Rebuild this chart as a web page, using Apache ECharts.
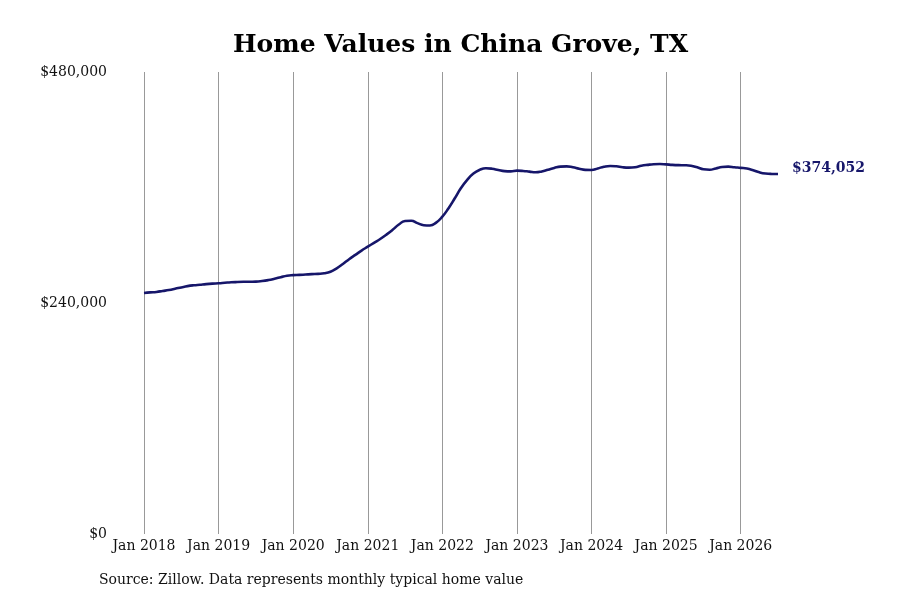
<!DOCTYPE html>
<html style="height: 100%">
<head>
    <meta charset="UTF-8">
    <title>Home Values in China Grove, TX</title>
    <script src="https://cdn.jsdelivr.net/npm/echarts@6/dist/echarts.min.js"></script>
    <style>
        body { margin: 0; background: #ffffff; }
        #chart { width: 900px; height: 600px; }
    </style>
</head>
<body>
    <div id="chart"></div>

    <script>
        // monthly typical home value, Jan 2018 .. Jul 2026
        var startYear = 2018;
        var values2018 = [250400, 251000, 251500, 252500, 253500, 254800, 256200, 257500, 258400, 259000, 259600, 260100];
        var values2019 = [260500, 261000, 261500, 261800, 262000, 262100, 262200, 262800, 263800, 265200, 266800, 268400];
        var values2020 = [269000, 269200, 269600, 270000, 270300, 270900, 272500, 276000, 280500, 285500, 290000, 294500];
        var values2021 = [298500, 302500, 306500, 311000, 316000, 321500, 325200, 325500, 323000, 320800, 320500, 323500];
        var values2022 = [329700, 338500, 348800, 359500, 368000, 374500, 378300, 380000, 379500, 378200, 377000, 376800];
        var values2023 = [377500, 377200, 376500, 375800, 376700, 378500, 380300, 381700, 382000, 381000, 379500, 378300];
        var values2024 = [378200, 379800, 381600, 382400, 382000, 381000, 380600, 381000, 382500, 383500, 384200, 384400];
        var values2025 = [384000, 383500, 383200, 383100, 382600, 381000, 379000, 378500, 379800, 381300, 381700, 381000];
        var values2026 = [380400, 379700, 378000, 375800, 374500, 374100, 374052];

        var yTicks = [0, 240000, 480000];

        var values = [].concat(values2018, values2019, values2020, values2021, values2022,
            values2023, values2024, values2025, values2026);

        var monthNames = ['Jan', 'Feb', 'Mar', 'Apr', 'May', 'Jun', 'Jul', 'Aug', 'Sep', 'Oct', 'Nov', 'Dec'];
        var categories = values.map(function (v, i) {
            return monthNames[i % 12] + ' ' + (startYear + Math.floor(i / 12));
        });

        function isJan(index) { return index % 12 === 0; }

        var serif = '"DejaVu Serif", serif';

        var option = {
            backgroundColor: '#ffffff',
            animation: false,
            title: {
                text: 'Home Values in China Grove, TX',
                left: 228,
                top: 28,
                textStyle: { fontFamily: serif, fontSize: 25, fontWeight: 'bold', color: '#000' }
            },
            grid: { left: 144, right: 122, top: 72, bottom: 66 },
            xAxis: {
                type: 'category',
                data: categories,
                boundaryGap: false,
                axisLine: { show: false },
                axisTick: { show: false },
                axisLabel: {
                    interval: function (index) { return isJan(index); },
                    margin: 5,
                    fontFamily: serif,
                    fontSize: 14,
                    color: '#111'
                },
                splitLine: {
                    show: true,
                    interval: function (index) { return isJan(index); },
                    lineStyle: { color: '#999', width: 1 }
                }
            },
            yAxis: {
                type: 'value',
                min: yTicks[0],
                max: yTicks[2],
                interval: yTicks[1],
                axisLine: { show: false },
                axisTick: { show: false },
                splitLine: { show: false },
                axisLabel: {
                    margin: 37,
                    fontFamily: serif,
                    fontSize: 14,
                    color: '#111',
                    formatter: function (v) { return '$' + v.toLocaleString('en-US'); }
                }
            },
            series: [{
                type: 'line',
                data: values,
                smooth: true,
                symbol: 'none',
                lineStyle: { color: '#16166a', width: 2.6 },
                endLabel: {
                    show: true,
                    distance: 14,
                    offset: [0, -6],
                    fontFamily: serif,
                    fontSize: 14,
                    fontWeight: 'bold',
                    color: '#16166a',
                    formatter: function (p) { return '$' + p.value.toLocaleString('en-US'); }
                }
            }],
            graphic: [{
                type: 'text',
                left: 99,
                top: 573,
                style: {
                    text: 'Source: Zillow. Data represents monthly typical home value',
                    font: '14px "DejaVu Serif", serif',
                    fill: '#111'
                }
            }]
        };

        var chart = echarts.init(document.getElementById('chart'));
        chart.setOption(option);
    </script>
</body>
</html>
